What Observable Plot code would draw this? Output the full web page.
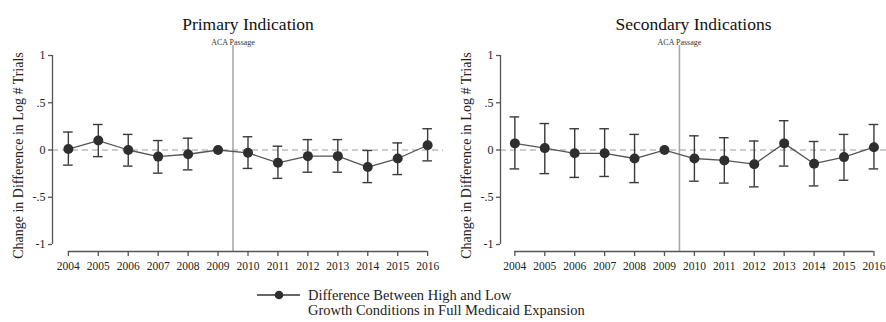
<!DOCTYPE html>
<html>
<head>
<meta charset="utf-8">
<script src="https://cdn.jsdelivr.net/npm/d3@7"></script>
<script src="https://cdn.jsdelivr.net/npm/@observablehq/plot@0.6"></script>
<style>
  body { margin: 0; background: #fff; }
  #wrap { position: relative; width: 886px; height: 322px; font-family: "Liberation Serif", "DejaVu Serif", serif; }
  .panel { position: absolute; top: 0; }
</style>
</head>
<body>
<div id="wrap"></div>
<script>
const years = [2004, 2005, 2006, 2007, 2008, 2009, 2010, 2011, 2012, 2013, 2014, 2015, 2016];

const primaryEst = [0.01, 0.10, 0.00, -0.07, -0.045, 0, -0.03, -0.135, -0.065, -0.065, -0.18, -0.09, 0.05];
const primaryLo  = [-0.16, -0.07, -0.17, -0.245, -0.21, null, -0.195, -0.30, -0.235, -0.235, -0.345, -0.26, -0.115];
const primaryHi  = [0.19, 0.27, 0.165, 0.10, 0.125, null, 0.14, 0.04, 0.11, 0.11, -0.005, 0.075, 0.225];

const secondaryEst = [0.07, 0.02, -0.035, -0.035, -0.09, 0, -0.09, -0.11, -0.15, 0.07, -0.145, -0.075, 0.03];
const secondaryLo  = [-0.20, -0.25, -0.29, -0.28, -0.345, null, -0.33, -0.35, -0.39, -0.17, -0.38, -0.32, -0.20];
const secondaryHi  = [0.35, 0.28, 0.225, 0.225, 0.165, null, 0.15, 0.13, 0.095, 0.31, 0.09, 0.165, 0.27];

const yTicks = [-1, -0.5, 0, 0.5, 1];
const yTickLabels = ["-1", "-.5", "0", ".5", "1"];
const acaYear = 2009.5;
const titles = ["Primary Indication", "Secondary Indications"];
const yLabel = "Change in Difference in Log # Trials";
const acaLabel = "ACA Passage";
const legendLines = ["Difference Between High and Low", "Growth Conditions in Full Medicaid Expansion"];

const FONT = "'Liberation Serif', 'DejaVu Serif', serif";
const DARK = "#2e2e2e";
const AXIS = "#555";

function table(est, lo, hi) {
  return years.map((year, i) => ({year, est: est[i], lo: lo[i], hi: hi[i]}));
}

function panel(data, title, xDomain, marginLeft, width) {
  const yMin = -1.074;
  const ci = data.filter(d => d.lo != null);
  const capHalf = 0.16;
  return Plot.plot({
    width, height: 280,
    marginLeft, marginRight: 0, marginTop: 55, marginBottom: 29,
    style: {fontFamily: FONT, fontSize: "11.5px", color: "#222", background: "transparent"},
    x: {domain: xDomain, axis: null},
    y: {domain: [yMin, 1], axis: null},
    marks: [
      // zero reference (dashed)
      Plot.ruleY([0], {stroke: "#9a9a9a", strokeWidth: 1, strokeDasharray: "6,4"}),
      // ACA passage line
      Plot.ruleX([acaYear], {y1: yMin, y2: 1.105, stroke: "#a8a8a8", strokeWidth: 1.6}),
      Plot.text([acaLabel], {x: acaYear, frameAnchor: "top", dy: -16, fontSize: 8, fill: "#333"}),
      // axes
      Plot.ruleX([xDomain[0]], {y1: -1, y2: 1, stroke: AXIS, strokeWidth: 1.3}),
      Plot.ruleY([yMin], {x1: years[0], x2: years[years.length - 1], stroke: AXIS, strokeWidth: 1.3}),
      Plot.axisY({ticks: yTicks, tickFormat: d => yTickLabels[yTicks.indexOf(d)], label: null, tickSize: 4, tickPadding: 3, stroke: AXIS, strokeWidth: 1.3, fill: "#222", fontSize: 12}),
      Plot.axisX({ticks: years, tickFormat: d => String(d), label: null, tickSize: 5, tickPadding: 5, stroke: AXIS, strokeWidth: 1.3, fill: "#222"}),
      // error bars
      Plot.ruleX(ci, {x: "year", y1: "lo", y2: "hi", stroke: "#3a3a3a", strokeWidth: 1.4}),
      Plot.ruleY(ci, {y: "hi", x1: d => d.year - capHalf, x2: d => d.year + capHalf, stroke: "#3a3a3a", strokeWidth: 1.4}),
      Plot.ruleY(ci, {y: "lo", x1: d => d.year - capHalf, x2: d => d.year + capHalf, stroke: "#3a3a3a", strokeWidth: 1.4}),
      // connecting line + points
      Plot.line(data, {x: "year", y: "est", stroke: "#555", strokeWidth: 1.3}),
      Plot.dot(data, {x: "year", y: "est", r: 5, fill: DARK, stroke: "none"}),
      // titles
      Plot.text([title], {frameAnchor: "top", dy: -38, fontSize: 17.5, fill: "#111"}),
      Plot.text([yLabel], {frameAnchor: "left", textAnchor: "middle", rotate: -90, dx: -34, dy: 2, fontSize: 14, fill: "#222"})
    ]
  });
}

const wrap = document.getElementById("wrap");

const left = panel(table(primaryEst, primaryLo, primaryHi), titles[0], [2003.47, 2016.53], 52, 443);
left.classList.add("panel");
left.style.left = "0px";
wrap.appendChild(left);

const right = panel(table(secondaryEst, secondaryLo, secondaryHi), titles[1], [2003.52, 2016.42], 57, 443);
right.classList.add("panel");
right.style.left = "443px";
wrap.appendChild(right);

// legend
const svg = d3.create("svg").attr("width", 886).attr("height", 42)
  .style("position", "absolute").style("left", "0px").style("top", "280px");
svg.append("line").attr("x1", 257).attr("x2", 300).attr("y1", 15).attr("y2", 15)
  .attr("stroke", "#333").attr("stroke-width", 1.3);
svg.append("circle").attr("cx", 279).attr("cy", 15).attr("r", 4.3).attr("fill", DARK);
svg.selectAll("text.leg").data(legendLines).join("text")
  .attr("x", 308).attr("y", (d, i) => 19.5 + i * 15)
  .attr("font-family", FONT).attr("font-size", 14.5).attr("fill", "#222")
  .text(d => d);
wrap.appendChild(svg.node());
</script>
</body>
</html>
